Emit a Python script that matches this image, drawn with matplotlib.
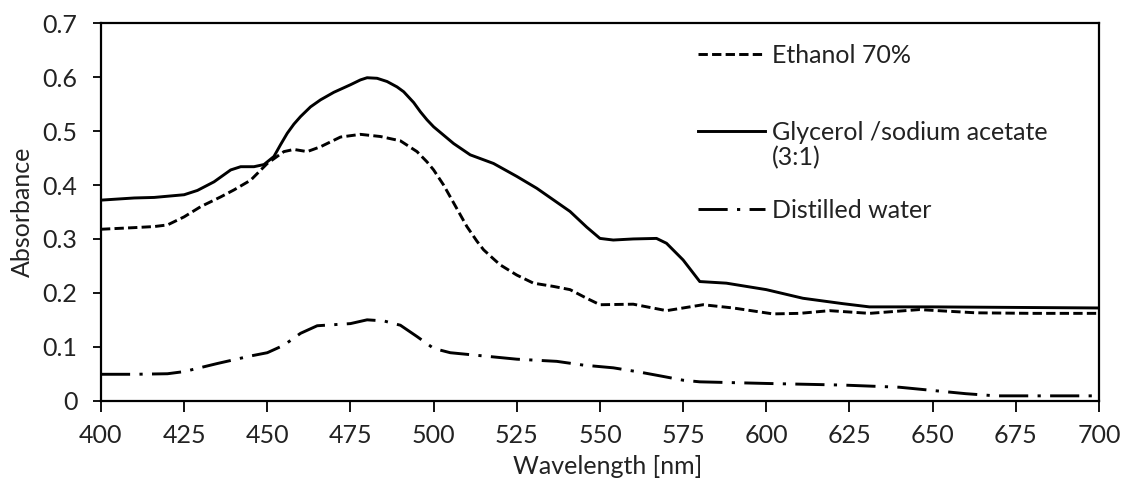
import matplotlib
matplotlib.use("Agg")
import matplotlib.pyplot as plt

plt.rcParams['font.family'] = ['Lato', 'DejaVu Sans']

# Ethanol 70%
eth_nm = [400, 410, 416, 420, 425, 430, 436, 440, 445, 450, 455, 458, 462, 466,
          472, 478, 484, 490, 495, 498, 500, 503, 505, 508, 510, 513, 515, 518,
          520, 525, 530, 536, 541, 546, 550, 560, 570, 581, 590, 602, 610, 619,
          631, 646, 663, 680, 700]
eth_abs = [0.318, 0.321, 0.323, 0.326, 0.341, 0.360, 0.378, 0.391, 0.409, 0.440,
           0.462, 0.466, 0.462, 0.471, 0.489, 0.494, 0.490, 0.482, 0.462, 0.443,
           0.428, 0.400, 0.378, 0.345, 0.323, 0.296, 0.280, 0.263, 0.252, 0.233,
           0.218, 0.212, 0.206, 0.190, 0.178, 0.179, 0.167, 0.178, 0.172, 0.161,
           0.162, 0.167, 0.162, 0.169, 0.163, 0.162, 0.162]

# Glycerol / sodium acetate (3:1)
gly_nm = [400, 410, 416, 425, 429, 434, 439, 442, 446, 449, 452, 454, 456, 458,
          460, 463, 466, 470, 475, 478, 480, 483, 486, 489, 491, 494, 496, 498,
          500, 506, 511, 518, 525, 531, 541, 546, 550, 554, 560, 567, 570, 575,
          580, 588, 600, 611, 623, 631, 650, 675, 700]
gly_abs = [0.372, 0.376, 0.377, 0.382, 0.390, 0.406, 0.428, 0.434, 0.434, 0.438,
           0.453, 0.475, 0.496, 0.513, 0.527, 0.545, 0.558, 0.572, 0.586, 0.595,
           0.599, 0.598, 0.592, 0.582, 0.573, 0.553, 0.536, 0.521, 0.508, 0.477,
           0.456, 0.440, 0.416, 0.394, 0.351, 0.322, 0.301, 0.298, 0.300, 0.301,
           0.292, 0.261, 0.221, 0.218, 0.206, 0.190, 0.180, 0.174, 0.174, 0.173,
           0.172]

# Distilled water
wat_nm = [400, 410, 420, 425, 435, 445, 450, 455, 460, 465, 475, 480, 485, 490,
          495, 500, 505, 515, 525, 537, 545, 554, 562, 569, 575, 580, 600, 623,
          640, 650, 660, 669, 685, 700]
wat_abs = [0.049, 0.049, 0.050, 0.054, 0.069, 0.083, 0.089, 0.103, 0.125, 0.139,
           0.143, 0.150, 0.148, 0.140, 0.119, 0.097, 0.089, 0.083, 0.077, 0.073,
           0.066, 0.061, 0.053, 0.045, 0.038, 0.035, 0.032, 0.029, 0.025, 0.019,
           0.013, 0.009, 0.009, 0.009]

labels = ["Ethanol 70%", "Glycerol /sodium acetate", "Distilled water"]
x_ticks = list(range(400, 701, 25))
y_ticks = [0, 0.1, 0.2, 0.3, 0.4, 0.5, 0.6, 0.7]
y_tick_labels = ["0", "0.1", "0.2", "0.3", "0.4", "0.5", "0.6", "0.7"]

fs = 18
txt_col = "#222222"
fig = plt.figure(figsize=(11.23, 4.8), dpi=100)
ax = fig.add_axes([0.0899, 0.1652, 0.8887, 0.7863])

lw = 2.1
ax.plot(eth_nm, eth_abs, color="black", lw=lw, linestyle=(0, (3.2, 1.45)), label=labels[0])
ax.plot(gly_nm, gly_abs, color="black", lw=lw, linestyle="-", label=labels[1])
ax.plot(wat_nm, wat_abs, color="black", lw=lw, linestyle=(0, (10, 3.2, 1.1, 3.2)), label=labels[2])

ax.set_xlim(400, 700)
ax.set_ylim(0, 0.7)
ax.set_xticks(x_ticks)
ax.set_yticks(y_ticks)
ax.set_yticklabels(y_tick_labels)
ax.tick_params(axis="x", direction="out", length=8, width=1.3, pad=9, labelsize=fs, labelcolor=txt_col)
ax.tick_params(axis="y", direction="out", length=6, width=1.3, pad=11, labelsize=fs, labelcolor=txt_col)
for s in ax.spines.values():
  s.set_linewidth(1.6)
  s.set_color("black")

ax.set_xlabel("Wavelength [nm]", fontsize=fs, labelpad=9, color=txt_col)
ax.xaxis.set_label_coords(0.508, -0.145)
ax.set_ylabel("Absorbance", fontsize=fs, labelpad=6, color=txt_col)

leg = ax.legend(loc="upper left", bbox_to_anchor=(0.598, 0.946), frameon=False,
                fontsize=fs, handlelength=2.7, handletextpad=0.28, labelspacing=2.18,
                borderpad=0, borderaxespad=0)
for t in leg.get_texts():
  t.set_color(txt_col)

# second line of the glycerol label, under the legend text
ax.annotate("(3:1)", xy=(0, 0), xycoords=leg.get_texts()[1], xytext=(0, -1),
            textcoords="offset points", ha="left", va="top", fontsize=fs,
            color=txt_col, zorder=10)

fig.savefig("out.png", dpi=100)
